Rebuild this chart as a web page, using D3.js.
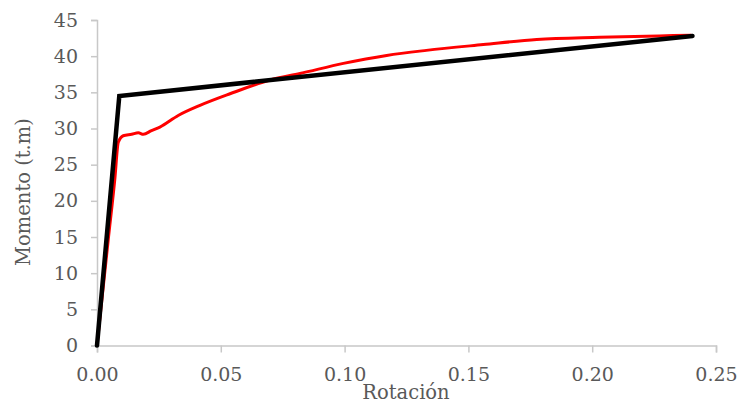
<!DOCTYPE html>
<html>
<head>
<meta charset="utf-8">
<script src="https://cdn.jsdelivr.net/npm/d3@7"></script>
<style>
  body { margin: 0; background: #fff; }
  #plot { width: 738px; height: 404px; display: block; }
  #plot text { font-family: 'DejaVu Serif', serif; fill: #595959; }
  .axis path, .axis line { stroke: #c8c8c8; stroke-width: 1.5px; }
</style>
</head>
<body>
<svg id="plot" width="738" height="404"></svg>
<script>
// measured curve (red)
const rotMeasured = [0, 0.0045, 0.0072, 0.0086, 0.0106, 0.0140, 0.0167, 0.0187, 0.0220, 0.0254, 0.0328, 0.0416, 0.0537, 0.0699, 0.0820, 0.0995, 0.1170, 0.1330, 0.1560, 0.1776, 0.2030, 0.2270, 0.2400];
const momMeasured = [0, 14.5, 23.0, 28.1, 29.0, 29.2, 29.4, 29.2, 29.7, 30.2, 31.8, 33.2, 34.8, 36.7, 37.6, 39.0, 40.1, 40.8, 41.6, 42.3, 42.6, 42.8, 42.9];

// bilinear idealisation (black)
const rotBilinear = [0, 0.0090, 0.2405];
const momBilinear = [0, 34.5, 42.8];

const xTicks = [0, 0.05, 0.10, 0.15, 0.20, 0.25];
const yTicks = [0, 5, 10, 15, 20, 25, 30, 35, 40, 45];

const plot = d3.select('#plot');

const xScale = d3.scaleLinear()
            .domain([0, 0.25])
            .range([97, 716]);

const yScale = d3.scaleLinear()
            .domain([0, 45])
            .range([345.5, 20]);

const xAxis = d3.axisBottom(xScale)
                .tickValues(xTicks)
                .tickFormat(d3.format('.2f'))
                .tickSizeInner(7)
                .tickSizeOuter(7)
                .tickPadding(15);

const yAxis = d3.axisLeft(yScale)
                .tickValues(yTicks)
                .tickFormat(d3.format('d'))
                .tickSizeInner(6)
                .tickSizeOuter(6)
                .tickPadding(13);

plot.append('g')
    .classed('axis xAxis', true)
    .attr('transform', `translate(0, ${yScale(0)})`)
    .call(xAxis)
    .attr('font-family', null);

plot.append('g')
    .classed('axis yAxis', true)
    .attr('transform', `translate(${xScale(0)}, 0)`)
    .call(yAxis)
    .attr('font-family', null);

plot.selectAll('.axis text')
    .style('font-size', '19px');

const line = d3.line()
               .x(d => xScale(d[0]))
               .y(d => yScale(d[1]));

const measured = rotMeasured.map((r, i) => [r, momMeasured[i]]);
const bilinear = rotBilinear.map((r, i) => [r, momBilinear[i]]);

plot.append('path')
    .attr('d', line.curve(d3.curveMonotoneX)(measured))
    .attr('stroke', '#ff0000')
    .attr('stroke-width', 3)
    .attr('stroke-linejoin', 'round')
    .style('fill', 'none');

plot.append('path')
    .attr('d', line.curve(d3.curveLinear)(bilinear))
    .attr('stroke', '#000')
    .attr('stroke-width', 4.5)
    .attr('stroke-linejoin', 'miter')
    .attr('stroke-linecap', 'round')
    .style('fill', 'none');

plot.append('text')
    .attr('text-anchor', 'middle')
    .attr('x', 406)
    .attr('y', 399)
    .style('font-size', '19.5px')
    .text('Rotación');

plot.append('text')
    .attr('text-anchor', 'middle')
    .attr('transform', 'translate(30, 192) rotate(-90)')
    .style('font-size', '19.5px')
    .text('Momento (t.m)');
</script>
</body>
</html>
